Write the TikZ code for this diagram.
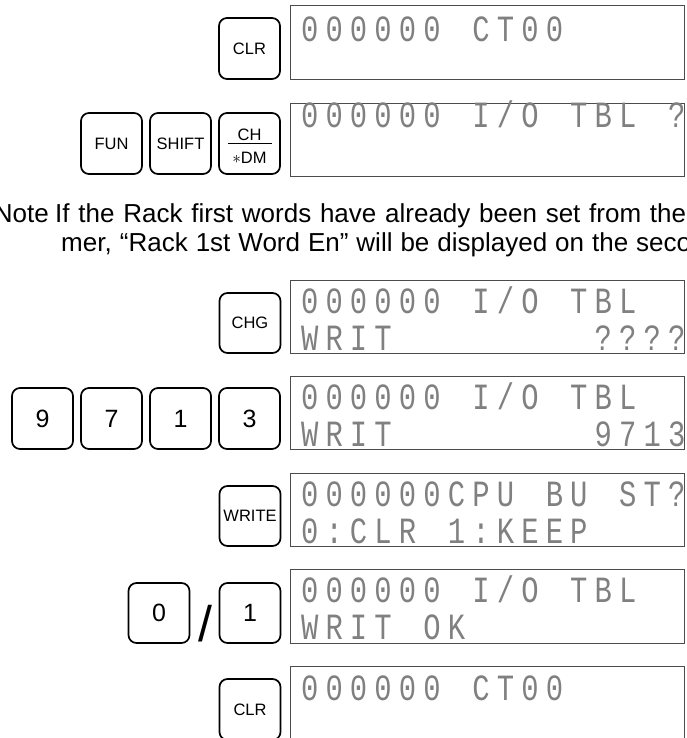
\documentclass[tikz,border=0pt]{standalone}
\usepackage{fontspec}
\setmainfont{Liberation Sans}
\newfontfamily\lcdfont[FakeStretch=0.78]{Liberation Mono}

% one character cell of the LCD
\newcommand\lcdpitch{24.47pt}
\newcommand\lcd[1]{\lcdloop#1\relax}
\def\lcdloop#1{\ifx#1\relax\else\makebox[\lcdpitch][c]{#1}\expandafter\lcdloop\fi}

\tikzset{
  key/.style={draw, line width=1.7pt, rounded corners=8pt, minimum width=61pt,
    minimum height=61pt, inner sep=0pt, font=\fontsize{16.5}{18}\selectfont},
  numkey/.style={key, font=\fontsize{25}{27}\selectfont},
  lcdbox/.style={draw=black!70, line width=1.1pt, minimum width=394pt,
    anchor=north west, inner sep=0pt},
  lcdtext/.style={anchor=base west, inner sep=0pt, text=black!50,
    font=\lcdfont\fontsize{37}{40}\selectfont},
  notetext/.style={anchor=base west, inner sep=0pt, font=\fontsize{26}{29}\selectfont},
}

\begin{document}
\begin{tikzpicture}[x=1pt, y=-1pt]
  \clip (0,0) rectangle (686,738);

  % CLR
  \node[lcdbox, minimum height=74pt] (dispA) at (290,5) {};
  \node[lcdtext] (txtA) at (297.3,42) {\lcd{000000~CT00}};
  \node[key] (clrA) at (249.5,48.5) {CLR};

  % FUN SHIFT CH
  \node[lcdbox, minimum height=73pt] (dispB) at (290,103) {};
  \node[lcdtext] (txtB) at (297.3,128) {\lcd{000000~I/O~TBL~?}};
  \node[key] (fun) at (111.5,143.5) {FUN};
  \node[key] (shift) at (180.5,143.5) {SHIFT};
  \node[key] (chdm) at (249.5,143.5) {};
  \node[font=\fontsize{16.5}{18}\selectfont] (ch) at (249.5,135) {CH};
  \node[font=\fontsize{16.5}{18}\selectfont] (dm) at (249.5,158) {$\ast$DM};
  \draw[line width=1.4pt] ([xshift=-22pt]chdm.center) -- ([xshift=22pt]chdm.center);

  % note
  \node[notetext, anchor=base east] (noteA) at (49,222) {Note};
  \node[notetext] (noteB) at (55,222)
    {\makebox[631pt][s]{If the Rack first words have already been set from the}};
  \node[notetext] (noteC) at (61,251)
    {\makebox[630pt][s]{mer, “Rack 1st Word En” will be displayed on the seco}};

  % CHG
  \node[lcdbox, minimum height=73pt] (dispC) at (290,280) {};
  \node[lcdtext] (txtC) at (297.3,313.5) {\lcd{000000~I/O~TBL}};
  \node[lcdtext] (txtCb) at (297.3,350) {\lcd{WRIT~~~~~~~~????}};
  \node[key, minimum height=60pt] (chg) at (250,323) {CHG};

  % 9713
  \node[lcdbox, minimum height=73pt] (dispD) at (290,376) {};
  \node[lcdtext] (txtD) at (297.3,409.5) {\lcd{000000~I/O~TBL}};
  \node[lcdtext] (txtDb) at (297.3,446) {\lcd{WRIT~~~~~~~~9713}};
  \foreach \d/\x in {9/42.5, 7/111.5, 1/180.5, 3/249.5}
    \node[numkey] (num\d) at (\x,418.5) {\d};

  % WRITE
  \node[lcdbox, minimum height=73pt] (dispE) at (290,473) {};
  \node[lcdtext] (txtE) at (297.3,506.5) {\lcd{000000CPU~BU~ST?}};
  \node[lcdtext] (txtEb) at (297.3,543) {\lcd{0:CLR~1:KEEP}};
  \node[key, minimum height=60pt] (write) at (250,516) {WRITE};

  % 0 / 1
  \node[lcdbox, minimum height=74pt] (dispF) at (290,569) {};
  \node[lcdtext] (txtF) at (297.3,602.5) {\lcd{000000~I/O~TBL}};
  \node[lcdtext] (txtFb) at (297.3,639) {\lcd{WRIT~OK}};
  \node[numkey, minimum height=60pt] (zero) at (159,613) {0};
  \node[font=\fontsize{50}{50}\selectfont, inner sep=0pt] (slash) at (205,624) {/};
  \node[numkey, minimum height=60pt] (one) at (250,613) {1};

  % CLR
  \node[lcdbox, minimum height=74pt] (dispG) at (290,666) {};
  \node[lcdtext] (txtG) at (297.3,700) {\lcd{000000~CT00}};
  \node[key] (clrB) at (250,709.5) {CLR};
\end{tikzpicture}
\end{document}
